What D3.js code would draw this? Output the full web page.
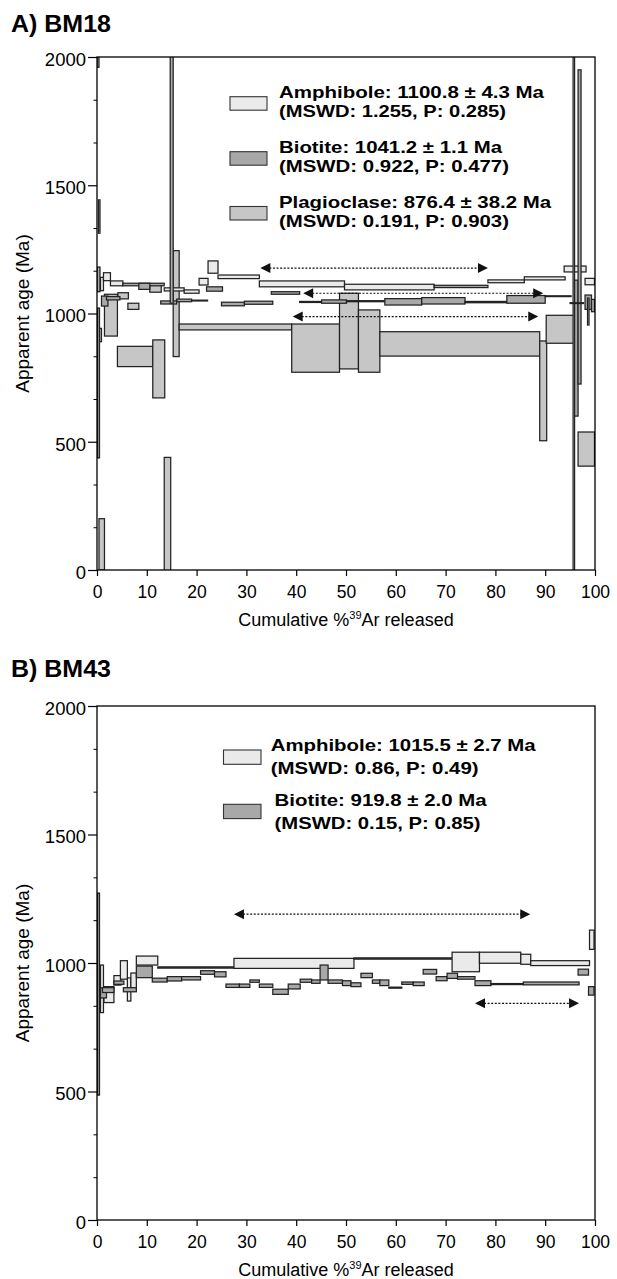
<!DOCTYPE html>
<html>
<head>
<meta charset="utf-8">
<script src="https://cdn.jsdelivr.net/npm/d3@7"></script>
<style>
  body { margin: 0; background: #fff; }
  svg { display: block; font-family: "Liberation Sans", Arial, Helvetica, sans-serif; }
</style>
</head>
<body>
<svg id="chart" width="617" height="1279"></svg>
<script>
// step data: [cum % start, cum % end, age low (Ma), age high (Ma)]
var bm18Plagioclase = [
  [0.4, 1.5, 0, 200], [0.5, 0.9, 890, 942], [1.5, 4.1, 912, 1075], [4.2, 6.3, 1057, 1081],
  [6.2, 8.4, 1016, 1040], [4.1, 11.2, 793, 872], [11.2, 13.6, 671, 897], [10.6, 12.9, 1083, 1115],
  [13.5, 14.8, -20, 439], [15.3, 16.5, 832, 1245], [16.5, 39.1, 936, 959], [39.1, 48.7, 771, 959],
  [48.7, 52.5, 784, 1079], [52.5, 56.8, 771, 1014], [56.8, 88.9, 834, 929], [88.9, 90.3, 504, 893],
  [90.2, 96.0, 884, 993], [96.6, 99.9, 405, 538]
];
var bm18Amphibole = [
  [0.7, 1.3, 1089, 1141], [1.3, 2.7, 1128, 1159], [2.7, 5.2, 1108, 1127], [13.5, 17.5, 1088, 1100],
  [17.5, 20.5, 1079, 1092], [20.5, 22.3, 1111, 1137], [22.3, 24.3, 1157, 1205], [24.3, 32.6, 1136, 1150],
  [32.6, 49.7, 1104, 1127], [49.7, 67.7, 1092, 1114], [78.5, 85.8, 1120, 1131], [85.8, 94.0, 1131, 1143],
  [93.8, 98.2, 1162, 1185], [98.0, 99.9, 1112, 1137], [95.6, 95.9, -100, 2100]
];
var bm18Biotite = [
  [0.0, 0.4, 1960, 2100], [0.3, 0.6, 1313, 1443], [0.0, 0.6, 1085, 1181], [0.1, 0.5, 437, 1021],
  [0.9, 2.2, 1029, 1068], [1.9, 4.6, 1053, 1066], [5.2, 13.5, 1108, 1118], [8.4, 10.6, 1094, 1118],
  [12.8, 16.0, 1037, 1049], [14.7, 15.3, 1040, 2100], [16.0, 19.0, 1046, 1056], [19.0, 22.2, 1049, 1052],
  [22.0, 25.2, 1087, 1104], [25.0, 29.6, 1030, 1044], [29.6, 35.3, 1036, 1048], [35.0, 40.7, 1075, 1085],
  [40.7, 45.1, 1043, 1047], [45.1, 50.1, 1040, 1053], [50.1, 57.8, 1046, 1050], [57.8, 65.2, 1033, 1058],
  [65.2, 73.9, 1037, 1062], [73.9, 82.3, 1042, 1047], [82.3, 90.0, 1040, 1070], [90.0, 95.2, 1066, 1069],
  [67.7, 78.5, 1101, 1110], [95.9, 96.6, 600, 1130], [96.6, 97.2, 725, 1950], [95.0, 97.7, 1039, 1042],
  [98.0, 99.3, 1016, 1072], [98.5, 98.8, 955, 1060], [99.3, 99.9, 1007, 1055]
];
var bm43Amphibole = [
  [0.7, 1.3, 807, 992], [1.4, 3.4, 846, 908], [3.4, 4.8, 914, 951], [4.7, 6.1, 937, 1009],
  [6.1, 6.8, 852, 942], [6.8, 7.9, 895, 961], [7.9, 12.2, 992, 1027], [12.2, 27.5, 980, 985],
  [27.5, 51.6, 979, 1018], [51.6, 71.3, 1015, 1020], [71.3, 76.8, 966, 1042], [76.8, 85.1, 999, 1042],
  [85.1, 87.1, 995, 1034], [87.1, 98.9, 990, 1009], [98.9, 99.8, 1053, 1128]
];
var bm43Biotite = [
  [0.1, 0.5, 486, 1272], [0.7, 1.9, 864, 903], [1.1, 3.4, 885, 904], [3.4, 5.4, 917, 930],
  [5.3, 7.9, 888, 904], [7.9, 11.1, 943, 988], [11.1, 14.1, 926, 941], [14.1, 17.0, 930, 947],
  [17.0, 20.8, 934, 947], [20.8, 23.6, 956, 970], [23.6, 25.9, 946, 966], [25.9, 28.6, 905, 918],
  [28.6, 30.7, 905, 918], [30.7, 32.6, 925, 934], [32.6, 35.3, 905, 918], [35.3, 38.4, 878, 898],
  [38.4, 40.8, 899, 918], [40.8, 43.1, 925, 937], [43.1, 44.8, 921, 934], [44.8, 46.4, 934, 992],
  [46.4, 49.3, 921, 934], [49.3, 51.0, 912, 931], [51.0, 53.0, 908, 923], [53.0, 55.3, 943, 960],
  [55.3, 56.8, 921, 934], [56.8, 58.6, 912, 934], [58.6, 61.2, 902, 906], [61.2, 63.5, 917, 926],
  [63.5, 65.7, 912, 926], [65.5, 68.2, 957, 975], [68.1, 70.3, 931, 947], [70.3, 72.4, 940, 960],
  [72.4, 75.9, 937, 947], [75.9, 79.1, 912, 931], [79.1, 85.6, 916, 920], [85.6, 96.8, 915, 926],
  [96.6, 98.7, 953, 976], [98.7, 99.8, 875, 908]
];

// plateau brackets: [from %, to %, age]
var bm18Plateaus = [[32.8, 78.5, 1177], [41.4, 89.6, 1079], [39.3, 88.6, 988]];
var bm43Plateaus = [[27.5, 87.0, 1190], [75.9, 96.8, 843]];

var bm18Legend = [
  ['Amphibole: 1100.8 \u00b1 4.3 Ma', '(MSWD: 1.255, P: 0.285)'],
  ['Biotite: 1041.2 \u00b1 1.1 Ma', '(MSWD: 0.922, P: 0.477)'],
  ['Plagioclase: 876.4 \u00b1 38.2 Ma', '(MSWD: 0.191, P: 0.903)']
];
var bm43Legend = [
  ['Amphibole: 1015.5 \u00b1 2.7 Ma', '(MSWD: 0.86, P: 0.49)'],
  ['Biotite: 919.8 \u00b1 2.0 Ma', '(MSWD: 0.15, P: 0.85)']
];

var xTicks = [0, 10, 20, 30, 40, 50, 60, 70, 80, 90, 100];
var yTicks = [0, 500, 1000, 1500, 2000];
var yMinorTicks = [166.7, 333.3, 666.7, 833.3, 1166.7, 1333.3, 1666.7, 1833.3];

var colors = { amph: '#eaeaea', bio: '#a8a8a8', plag: '#c6c6c6' };

var svg = d3.select('#chart');
var left = 97, plotW = 498;
var x = d3.scaleLinear().domain([0, 100]).range([left, left + plotW]);

var panels = [
  {
    id: 'a', title: 'A) BM18', titleY: 31.5, top: 57, h: 513,
    series: [
      { steps: bm18Plagioclase, color: colors.plag },
      { steps: bm18Amphibole, color: colors.amph },
      { steps: bm18Biotite, color: colors.bio }
    ],
    plateaus: bm18Plateaus,
    legend: bm18Legend,
    legendColors: [colors.amph, colors.bio, colors.plag],
    legendBoxes: [96.7, 151.7, 206.5], boxX: 230, boxW: 37, boxH: 13.5,
    textX: [279, 279, 279],
    baselines: [[97.6, 117.2], [152.6, 172.4], [207.6, 227.4]],
    widths: [[265, 227], [223, 230], [272, 230]]
  },
  {
    id: 'b', title: 'B) BM43', titleY: 676.5, top: 706, h: 514,
    series: [
      { steps: bm43Amphibole, color: colors.amph },
      { steps: bm43Biotite, color: colors.bio }
    ],
    plateaus: bm43Plateaus,
    legend: bm43Legend,
    legendColors: [colors.amph, colors.bio],
    legendBoxes: [750, 804.3], boxX: 223.5, boxW: 37.5, boxH: 14.3,
    textX: [270.7, 274.6],
    baselines: [[751, 774], [806, 829]],
    widths: [[265, 208], [212, 206]]
  }
];

panels.forEach(function (p) {
  var y = d3.scaleLinear().domain([0, 2000]).range([p.top + p.h, p.top]);
  var g = svg.append('g');

  svg.append('clipPath').attr('id', 'clip-' + p.id)
    .append('rect').attr('x', left).attr('y', p.top).attr('width', plotW).attr('height', p.h);

  var plot = g.append('g').attr('clip-path', 'url(#clip-' + p.id + ')');

  p.series.forEach(function (s) {
    plot.append('g').selectAll('rect')
      .data(s.steps)
      .enter()
      .append('rect')
        .attr('x', function (d) { return x(d[0]); })
        .attr('width', function (d) { return x(d[1]) - x(d[0]); })
        .attr('y', function (d) { return y(d[3]); })
        .attr('height', function (d) { return Math.max(0.8, y(d[2]) - y(d[3])); })
        .attr('fill', s.color)
        .attr('stroke', '#222')
        .attr('stroke-width', 1.25);
  });

  // plateau brackets
  var arr = g.append('g');
  p.plateaus.forEach(function (d) {
    var x0 = x(d[0]), x1 = x(d[1]), yy = y(d[2]);
    arr.append('line')
      .attr('x1', x0 + 9).attr('x2', x1 - 9).attr('y1', yy).attr('y2', yy)
      .attr('stroke', '#111').attr('stroke-width', 1.2).attr('stroke-dasharray', '2,1.6');
    arr.append('path')
      .attr('d', 'M' + x0 + ',' + yy + 'L' + (x0 + 10) + ',' + (yy - 5) + 'L' + (x0 + 10) + ',' + (yy + 5) + 'Z')
      .attr('fill', '#111');
    arr.append('path')
      .attr('d', 'M' + x1 + ',' + yy + 'L' + (x1 - 10) + ',' + (yy - 5) + 'L' + (x1 - 10) + ',' + (yy + 5) + 'Z')
      .attr('fill', '#111');
  });

  // frame
  g.append('rect')
    .attr('x', left).attr('y', p.top).attr('width', plotW).attr('height', p.h)
    .attr('fill', 'none').attr('stroke', '#000').attr('stroke-width', 1.3);

  // axes
  var gx = g.append('g')
    .attr('transform', 'translate(0,' + (p.top + p.h) + ')')
    .call(d3.axisBottom(x).tickValues(xTicks).tickSize(6).tickFormat(d3.format('d')));
  gx.attr('font-family', null).attr('font-size', null);
  gx.select('.domain').remove();
  gx.selectAll('line').attr('stroke-width', 1.2);
  gx.selectAll('text').attr('y', 28).attr('dy', null).attr('font-size', 17.5);

  var gy = g.append('g')
    .attr('transform', 'translate(' + left + ',0)')
    .call(d3.axisLeft(y).tickValues(yTicks).tickSize(9).tickPadding(2).tickFormat(d3.format('d')));
  gy.attr('font-family', null).attr('font-size', null);
  gy.select('.domain').remove();
  gy.selectAll('line').attr('stroke-width', 1.2);
  gy.selectAll('text').attr('dy', '0.45em').attr('font-size', 18.5);

  var gm = g.append('g')
    .attr('transform', 'translate(' + left + ',0)')
    .call(d3.axisLeft(y).tickValues(yMinorTicks).tickSize(3.5).tickFormat(''));
  gm.select('.domain').remove();

  // axis titles
  g.append('text')
    .attr('transform', 'translate(29,' + (p.top + p.h / 2) + ') rotate(-90)')
    .attr('text-anchor', 'middle')
    .attr('font-size', 19)
    .text('Apparent age (Ma)');

  var xl = g.append('text')
    .attr('x', left + plotW / 2).attr('y', p.top + p.h + 55.5)
    .attr('text-anchor', 'middle')
    .attr('font-size', 18);
  xl.append('tspan').text('Cumulative %');
  xl.append('tspan').attr('font-size', 11).attr('dy', -7).text('39');
  xl.append('tspan').attr('dy', 7).text('Ar released');

  // panel title
  svg.append('text')
    .attr('x', 11).attr('y', p.titleY)
    .attr('font-size', 23).attr('font-weight', 'bold')
    .attr('textLength', 100).attr('lengthAdjust', 'spacingAndGlyphs')
    .text(p.title);

  // legend
  var lg = g.append('g');
  p.legend.forEach(function (lines, i) {
    lg.append('rect')
      .attr('x', p.boxX).attr('y', p.legendBoxes[i])
      .attr('width', p.boxW).attr('height', p.boxH)
      .attr('fill', p.legendColors[i]).attr('stroke', '#333').attr('stroke-width', 1.1);
    lines.forEach(function (t, j) {
      lg.append('text')
        .attr('x', p.textX[i]).attr('y', p.baselines[i][j])
        .attr('font-size', 16.5).attr('font-weight', 'bold')
        .attr('textLength', p.widths[i][j]).attr('lengthAdjust', 'spacingAndGlyphs')
        .text(t);
    });
  });
});
</script>
</body>
</html>
